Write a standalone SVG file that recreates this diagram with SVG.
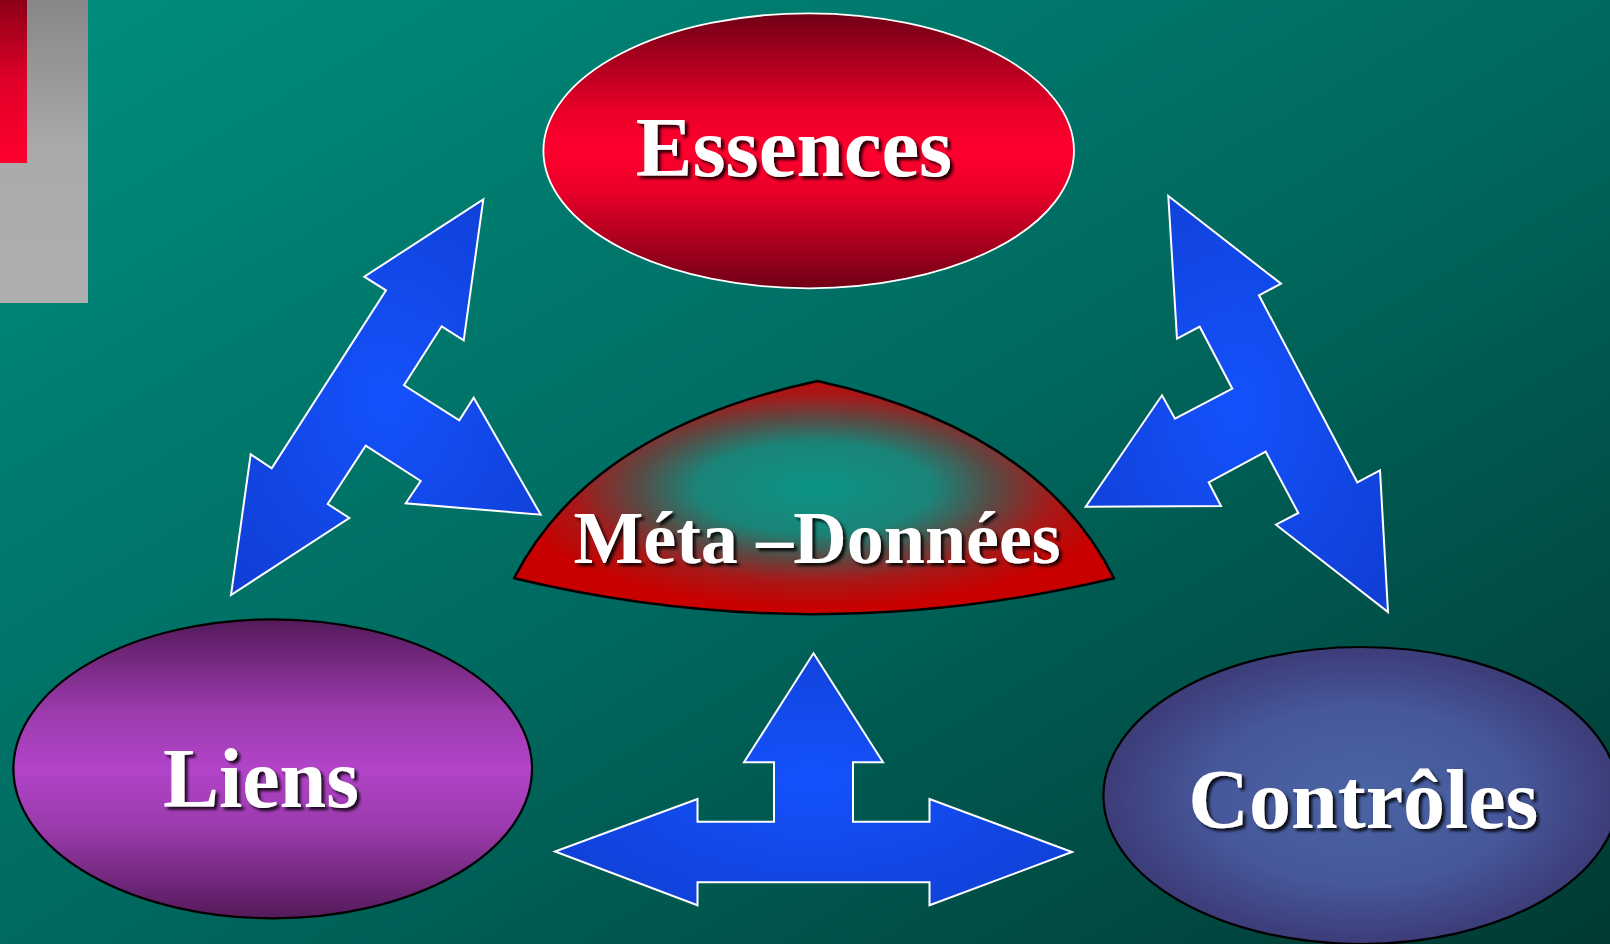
<svg xmlns="http://www.w3.org/2000/svg" width="1610" height="944" viewBox="0 0 1610 944">
<defs>
<linearGradient id="bg" x1="0" y1="0" x2="1" y2="1">
<stop offset="0" stop-color="#008e7e"/>
<stop offset="0.5" stop-color="#006a60"/>
<stop offset="1" stop-color="#003a33"/>
</linearGradient>
<linearGradient id="gray" x1="0" y1="0" x2="0" y2="1">
<stop offset="0" stop-color="#878787"/>
<stop offset="0.5" stop-color="#aaaaaa"/>
<stop offset="1" stop-color="#afafaf"/>
</linearGradient>
<linearGradient id="redbar" x1="0" y1="0" x2="0" y2="1">
<stop offset="0" stop-color="#8c0018"/>
<stop offset="0.5" stop-color="#e00028"/>
<stop offset="1" stop-color="#ff0030"/>
</linearGradient>
<linearGradient id="ess" x1="0" y1="0" x2="0" y2="1">
<stop offset="0" stop-color="#700016"/>
<stop offset="0.35" stop-color="#e80028"/>
<stop offset="0.5" stop-color="#ff002e"/>
<stop offset="0.65" stop-color="#e80028"/>
<stop offset="1" stop-color="#700016"/>
</linearGradient>
<linearGradient id="lie" x1="0" y1="0" x2="0" y2="1">
<stop offset="0" stop-color="#541a5a"/>
<stop offset="0.3" stop-color="#9a3aac"/>
<stop offset="0.5" stop-color="#b244c8"/>
<stop offset="0.7" stop-color="#9a3aac"/>
<stop offset="1" stop-color="#541a5a"/>
</linearGradient>
<radialGradient id="con" cx="0.5" cy="0.5" r="0.5">
<stop offset="0" stop-color="#4a64a4"/>
<stop offset="0.6" stop-color="#46579a"/>
<stop offset="1" stop-color="#3c3c78"/>
</radialGradient>
<radialGradient id="meta" gradientUnits="userSpaceOnUse" cx="815" cy="488" r="200" gradientTransform="translate(815 488) scale(1.55 0.6) translate(-815 -488)">
<stop offset="0" stop-color="#0c9484"/>
<stop offset="0.38" stop-color="#1a8478"/>
<stop offset="0.58" stop-color="#5a4a44"/>
<stop offset="0.78" stop-color="#a81818"/>
<stop offset="1" stop-color="#c80000"/>
</radialGradient>
<radialGradient id="arrow" cx="0.5" cy="0.5" r="0.6">
<stop offset="0" stop-color="#1452fc"/>
<stop offset="1" stop-color="#1040d8"/>
</radialGradient>
<filter id="shadow" x="-10%" y="-20%" width="125%" height="150%">
<feDropShadow dx="3" dy="3" stdDeviation="1.6" flood-color="#000" flood-opacity="0.85"/>
</filter>
</defs>
<style>
.lbl{font-family:"Liberation Serif","Times New Roman",serif;font-weight:bold;fill:#fff;text-anchor:middle;filter:url(#shadow)}
.arr{fill:url(#arrow);stroke:#fff;stroke-width:2;stroke-linejoin:miter}
</style>
<rect x="0" y="0" width="1610" height="944" fill="url(#bg)"/>
<rect x="0" y="0" width="88" height="303" fill="url(#gray)"/>
<rect x="0" y="0" width="27" height="163" fill="url(#redbar)"/>

<g id="connectors">
<path class="arr" d="M483.3 199.3 L364.3 276.7 L386 290.3 L271.7 468.3 L250.7 454.3 L231 595 L349.3 518 L327.7 504 L365.7 445.7 L420.7 481 L405.7 503.3 L540.7 514.7 L473.7 397.7 L459.3 420.3 L404 385.3 L441.7 326.3 L463.7 340.3 Z"/>
<path class="arr" d="M1168.3 196 L1281 283.7 L1259 295.3 L1357.3 482.3 L1380 470.3 L1388 612 L1276 524.7 L1298.3 513 L1265.7 451.7 L1208.7 482.3 L1221 506 L1085.7 506.7 L1162 395.3 L1175 418.7 L1232.3 388.7 L1199.7 326.7 L1177 338.7 Z"/>
<path class="arr" d="M813.5 653.3 L883 762.3 L853 762.3 L853 821.7 L929.5 821.7 L929.5 799 L1072 852 L929.5 905.3 L929.5 882.3 L697.5 882.3 L697.5 905.3 L555 851.5 L697.5 799 L697.5 821.7 L774 821.7 L774 762.3 L744 762.3 Z"/>
</g>

<g id="essences">
<ellipse cx="808.7" cy="150.8" rx="265.3" ry="137.5" fill="url(#ess)" stroke="#fff" stroke-width="1.8"/>
<text class="lbl" x="794" y="175.7" font-size="85">Essences</text>
</g>

<g id="liens">
<ellipse cx="272.7" cy="768.8" rx="259.3" ry="149.5" fill="url(#lie)" stroke="#000" stroke-width="2.2"/>
<text class="lbl" x="261" y="807.3" font-size="84">Liens</text>
</g>

<g id="controles">
<ellipse cx="1361" cy="795.5" rx="257.6" ry="148.5" fill="url(#con)" stroke="#000" stroke-width="2.2"/>
<text class="lbl" x="1363.3" y="828.3" font-size="84">Contrôles</text>
</g>

<g id="meta-donnees">
<path d="M514 578.3 Q590 430 817.5 381 Q1040 430 1114 578.3 Q814 650 514 578.3 Z" fill="url(#meta)" stroke="#000" stroke-width="2.5" stroke-linejoin="round"/>
<text class="lbl" x="817" y="562.7" font-size="74">Méta –Données</text>
</g>
</svg>
